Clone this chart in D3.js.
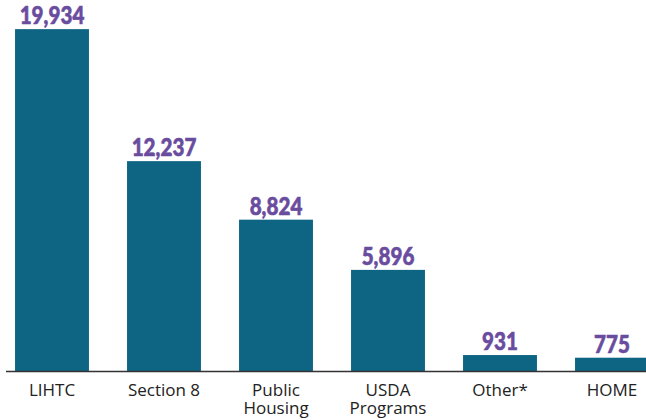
<!DOCTYPE html>
<html>
<head>
<meta charset="utf-8">
<script src="https://cdn.jsdelivr.net/npm/d3@7"></script>
<style>
  body { margin: 0; background: #fff; }
  svg { display: block; }
</style>
</head>
<body>
<div id="chart"></div>
<script>
const categories = ["LIHTC", "Section 8", "Public Housing", "USDA Programs", "Other*", "HOME"];
const labelLines = [["LIHTC"], ["Section 8"], ["Public", "Housing"], ["USDA", "Programs"], ["Other*"], ["HOME"]];
const values = [19934, 12237, 8824, 5896, 931, 775];

const width = 646;
const height = 420;
const baseline = 371;

const svg = d3.select("#chart")
    .append("svg")
    .attr("width", width)
    .attr("height", height);

const x = d3.scaleBand()
    .domain(categories)
    .range([-4, 668])
    .paddingInner(0.34)
    .paddingOuter(0.17);

const y = d3.scaleLinear()
    .domain([0, 20000])
    .range([baseline, 28]);

const data = categories.map((c, i) => ({ cat: c, value: values[i], lines: labelLines[i] }));

svg.selectAll(".bar")
    .data(data)
    .enter()
    .append("rect")
    .attr("class", "bar")
    .attr("x", d => x(d.cat))
    .attr("width", x.bandwidth())
    .attr("y", d => y(d.value))
    .attr("height", d => baseline - y(d.value))
    .style("fill", "#0e6583");

// condensed look: squeeze bold label horizontally
svg.selectAll(".value")
    .data(data)
    .enter()
    .append("text")
    .attr("class", "value")
    .attr("transform", d => `translate(${x(d.cat) + x.bandwidth() / 2},${y(d.value) - 5}) scale(0.86,1)`)
    .attr("text-anchor", "middle")
    .style("font-family", "Lato, sans-serif")
    .style("font-weight", "900")
    .style("font-size", "24px")
    .style("fill", "#6a4c9f")
    .style("stroke", "#6a4c9f")
    .style("stroke-width", 0.6)
    .text(d => d3.format(",")(d.value));

svg.append("line")
    .attr("x1", 6)
    .attr("x2", width)
    .attr("y1", baseline + 0.5)
    .attr("y2", baseline + 0.5)
    .style("stroke", "#333")
    .style("stroke-width", 1.5);

data.forEach(d => {
    d.lines.forEach((line, i) => {
        svg.append("text")
            .attr("class", "cat")
            .attr("x", x(d.cat) + x.bandwidth() / 2)
            .attr("y", 396 + i * 18)
            .attr("text-anchor", "middle")
            .style("font-family", "'Open Sans', sans-serif")
            .style("font-size", "17px")
            .style("fill", "#222")
            .text(line);
    });
});
</script>
</body>
</html>
